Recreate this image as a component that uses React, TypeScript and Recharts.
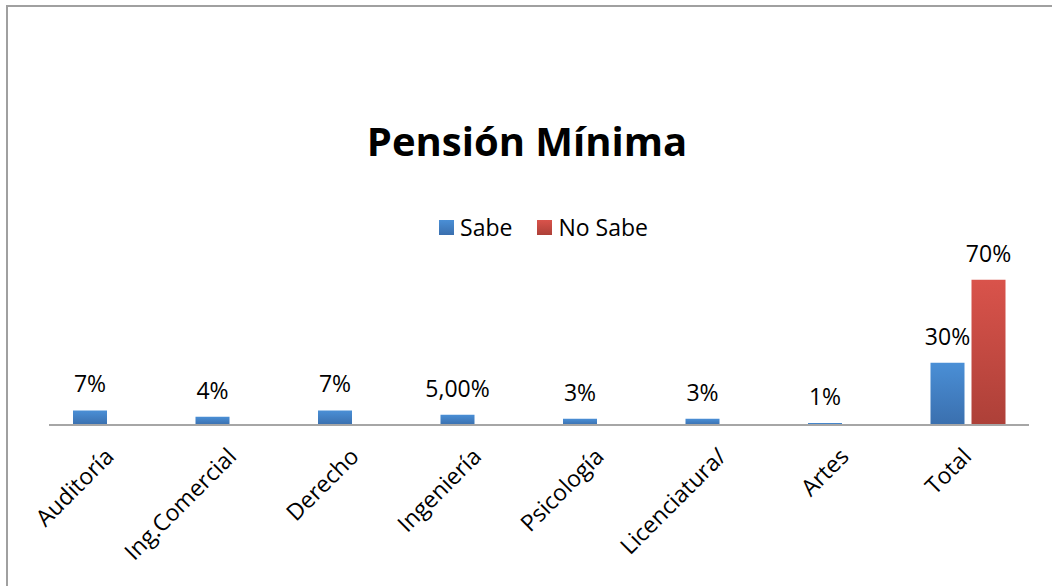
import { Bar, BarChart, LabelList, XAxis, YAxis } from "recharts";

const categories = [
  "Auditoría",
  "Ing.Comercial",
  "Derecho",
  "Ingeniería",
  "Psicología",
  "Licenciatura/",
  "Artes",
  "Total",
];
const sabe = [7, 4, 7, 5, 3, 3, 1, 30];
const noSabe = [null, null, null, null, null, null, null, 70];
const sabeLabels = ["7%", "4%", "7%", "5,00%", "3%", "3%", "1%", "30%"];
const noSabeLabels = ["", "", "", "", "", "", "", "70%"];

const data = categories.map((name, i) => ({
  name,
  sabe: sabe[i],
  noSabe: noSabe[i],
  sabeLabel: sabeLabels[i],
  noSabeLabel: noSabeLabels[i],
}));

const FONT = "'Open Sans', sans-serif";

const CategoryTick = (props: any) => {
  const { x, y, payload } = props;
  const ax = x + 5;
  const ay = y + 25;
  return (
    <text
      x={ax}
      y={ay}
      transform={`rotate(-45, ${ax}, ${ay})`}
      textAnchor="end"
      fontSize={23}
      fontFamily={FONT}
      fill="#000">
      {payload.value}
    </text>
  );
};

const ValueLabel = (props: any) => {
  const { x, y, width, value } = props;
  if (!value) return null;
  return (
    <text
      x={x + width / 2}
      y={y - 18}
      textAnchor="middle"
      fontSize={23}
      fontFamily={FONT}
      fill="#000">
      {value}
    </text>
  );
};

export default function App() {
  return (
    <div
      style={{
        position: "absolute",
        left: 0,
        top: 0,
        width: 1052,
        height: 586,
        background: "#fff",
        fontFamily: FONT,
        overflow: "hidden",
      }}>
      <div
        style={{
          position: "absolute",
          left: 6,
          top: 5,
          width: 1060,
          height: 600,
          borderTop: "2px solid #a0a0a0",
          borderLeft: "2px solid #a0a0a0",
        }}
      />
      <div
        style={{
          position: "absolute",
          top: 115,
          left: 0,
          width: 1054,
          textAlign: "center",
          fontSize: 40,
          fontWeight: 700,
          lineHeight: "52px",
          color: "#000",
        }}>
        Pensión Mínima
      </div>
      <div
        style={{
          position: "absolute",
          top: 212,
          left: 0,
          width: 1087,
          display: "flex",
          justifyContent: "center",
          alignItems: "center",
          gap: 25,
          fontSize: 23,
          lineHeight: "30px",
        }}>
        <div style={{ display: "flex", alignItems: "center", gap: 6 }}>
          <span
            style={{
              width: 15,
              height: 15,
              background: "linear-gradient(#4a8fd6, #3a6fae)",
            }}
          />
          <span>Sabe</span>
        </div>
        <div style={{ display: "flex", alignItems: "center", gap: 6 }}>
          <span
            style={{
              width: 15,
              height: 15,
              background: "linear-gradient(#d9534b, #ad4038)",
            }}
          />
          <span>No Sabe</span>
        </div>
      </div>
      <BarChart
        width={1052}
        height={586}
        data={data}
        margin={{ top: 259, right: 23, bottom: 0, left: 49 }}
        barSize={34}
        barGap={7}
        style={{ position: "absolute", left: 0, top: 0 }}>
        <defs>
          <linearGradient id="gradSabe" x1="0" y1="0" x2="0" y2="1">
            <stop offset="0%" stopColor="#4a8fd6" />
            <stop offset="100%" stopColor="#3a6fae" />
          </linearGradient>
          <linearGradient id="gradNoSabe" x1="0" y1="0" x2="0" y2="1">
            <stop offset="0%" stopColor="#d9534b" />
            <stop offset="100%" stopColor="#ad4038" />
          </linearGradient>
        </defs>
        <XAxis
          dataKey="name"
          interval={0}
          height={161}
          tickLine={false}
          axisLine={{ stroke: "#a6a6a6", strokeWidth: 2 }}
          tick={<CategoryTick />}
        />
        <YAxis hide domain={[0, 80]} />
        <Bar dataKey="sabe" fill="url(#gradSabe)" isAnimationActive={false}>
          <LabelList dataKey="sabeLabel" content={<ValueLabel />} />
        </Bar>
        <Bar dataKey="noSabe" fill="url(#gradNoSabe)" isAnimationActive={false}>
          <LabelList dataKey="noSabeLabel" content={<ValueLabel />} />
        </Bar>
      </BarChart>
    </div>
  );
}
